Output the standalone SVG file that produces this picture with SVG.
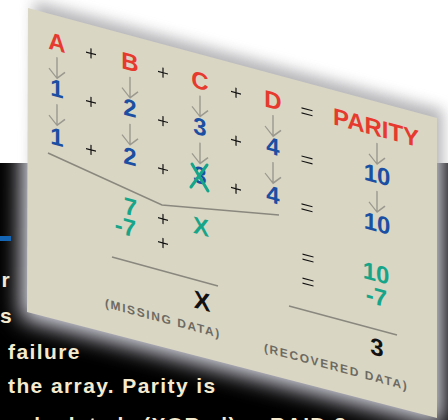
<svg xmlns="http://www.w3.org/2000/svg" xmlns:xlink="http://www.w3.org/1999/xlink" width="448" height="420" viewBox="0 0 448 420">
<style>
.t{font-family:"Liberation Sans",Arial,sans-serif;font-weight:bold;font-size:24px;text-anchor:middle}
.red{fill:#e63a2f}
.blu{fill:#1a4fa3}
.grn{fill:#17a58a}
.blk{fill:#111}
.lbl{font-family:"Liberation Sans",Arial,sans-serif;font-weight:bold;font-size:12px;letter-spacing:1.6px;fill:#6c6a62}
.arr{stroke:#9b998f;stroke-width:1.4;fill:none}
.op{stroke:#111;stroke-width:1.2;fill:none}
.rule{stroke:#8a887e;stroke-width:1.6;fill:none}
.body{font-family:"Liberation Sans",Arial,sans-serif;font-weight:bold;font-size:21px;letter-spacing:1.4px;fill:#f4ead0}
</style>
<defs>
<filter id="bl6" x="-20%" y="-20%" width="140%" height="140%"><feGaussianBlur stdDeviation="7"/></filter>
<filter id="bl11" x="-20%" y="-20%" width="140%" height="140%"><feGaussianBlur stdDeviation="11"/></filter>
<clipPath id="topc"><rect x="0" y="0" width="448" height="163"/></clipPath>
<clipPath id="darkc"><rect x="0" y="163" width="448" height="257"/></clipPath>
<path id="ar" d="M0 0V21M-8 13L0 21L8 13"/>
<path id="pl" d="M-5 0H5M0 -5V5"/>
<path id="eq" d="M-5.5 -2.5H5.5M-5.5 2.5H5.5"/>
</defs>
<rect width="448" height="420" fill="#fff"/>
<polygon points="34,1 443,110 443,412 31,306" fill="#7a7a80" opacity="0.55" filter="url(#bl6)" clip-path="url(#topc)"/>
<rect x="0" y="163" width="448" height="257" fill="#000"/>
<polygon points="22,1 443,114 443,426 21,318" fill="#e2e2ee" filter="url(#bl11)" clip-path="url(#darkc)"/>
<polygon id="card" points="28,8 437,118 437,418 27,312" fill="#d9d6c4"/>

<g id="connectors">
<g transform="skewY(15)">
<use href="#ar" x="57" y="42" class="arr"/>
<use href="#ar" x="130" y="42" class="arr"/>
<use href="#ar" x="200" y="42" class="arr"/>
<use href="#ar" x="273" y="42" class="arr"/>
<use href="#ar" x="377" y="42" class="arr"/>
<use href="#ar" x="57" y="89" class="arr"/>
<use href="#ar" x="130" y="89" class="arr"/>
<use href="#ar" x="200" y="89" class="arr"/>
<use href="#ar" x="273" y="89" class="arr"/>
<use href="#ar" x="377" y="90" class="arr"/>
</g>
<polyline class="rule" points="48,153 162,205 279,215"/>
<line class="rule" x1="112" y1="257" x2="218" y2="286"/>
<line class="rule" x1="289" y1="306" x2="397" y2="335"/>
</g>

<g transform="skewY(15)">
<g id="colA">
<text class="t red" x="57" y="35.5">A</text>
<text class="t blu" x="57" y="81.5">1</text>
<text class="t blu" x="57" y="130">1</text>
</g>
<g id="colB">
<text class="t red" x="130" y="35.5">B</text>
<text class="t blu" x="130" y="81.5">2</text>
<text class="t blu" x="130" y="130">2</text>
<text class="t grn" x="137" y="180.5" style="text-anchor:end">7</text>
<text class="t grn" x="136" y="201.5" style="text-anchor:end">-7</text>
</g>
<g id="colC">
<text class="t red" x="200" y="35.5">C</text>
<text class="t blu" x="200" y="81.5">3</text>
<text class="t blu" x="200" y="130">3</text>
<text class="t grn" x="201" y="181">X</text>
<text class="t blk" x="202" y="255.5" style="font-size:25px">X</text>
<text class="lbl" x="105" y="279">(MISSING DATA)</text>
</g>
<g id="colD">
<text class="t red" x="273" y="35.5">D</text>
<text class="t blu" x="273" y="81.5">4</text>
<text class="t blu" x="273" y="130">4</text>
</g>
<g id="colParity">
<text class="t red" x="376" y="35">PARITY</text>
<text class="t blu" x="377" y="82">10</text>
<text class="t blu" x="377" y="130.5">10</text>
<text class="t grn" x="376" y="180.5">10</text>
<text class="t grn" x="387" y="204" style="text-anchor:end">-7</text>
<text class="t blk" x="377" y="254.5">3</text>
<text class="lbl" x="264" y="281">(RECOVERED DATA)</text>
</g>
<g id="operators">
<use href="#pl" x="91" y="29" class="op"/>
<use href="#pl" x="163" y="29" class="op"/>
<use href="#pl" x="236" y="29.5" class="op"/>
<use href="#eq" x="307" y="29.5" class="op"/>
<use href="#pl" x="91" y="77.5" class="op"/>
<use href="#pl" x="163" y="77.5" class="op"/>
<use href="#pl" x="236" y="77.5" class="op"/>
<use href="#eq" x="307" y="77.7" class="op"/>
<use href="#pl" x="91" y="125.5" class="op"/>
<use href="#pl" x="163" y="125.5" class="op"/>
<use href="#pl" x="236" y="125.5" class="op"/>
<use href="#eq" x="307" y="125.5" class="op"/>
<use href="#pl" x="163" y="175.3" class="op"/>
<use href="#eq" x="308" y="175.5" class="op"/>
<use href="#pl" x="163" y="199.3" class="op"/>
<use href="#eq" x="308" y="199.5" class="op"/>
</g>
</g>
<g id="strike" stroke="#17a58a" stroke-width="3" stroke-linecap="round" fill="none">
<path d="M192 164L208 191"/>
<path d="M207 165L191 187"/>
</g>

<g id="bodytext">
<rect x="0" y="236" width="11" height="5" fill="#1565b5"/>
<text class="body" x="11" y="287" style="text-anchor:end">er</text>
<text class="body" x="0" y="323">s</text>
<text class="body" x="8" y="359">failure</text>
<text class="body" x="8" y="393">the array. Parity is</text>
<text class="body" x="8" y="432">calculated <tspan x="143">(XORed).</tspan><tspan x="270">RAID 3</tspan></text>
</g>
</svg>
